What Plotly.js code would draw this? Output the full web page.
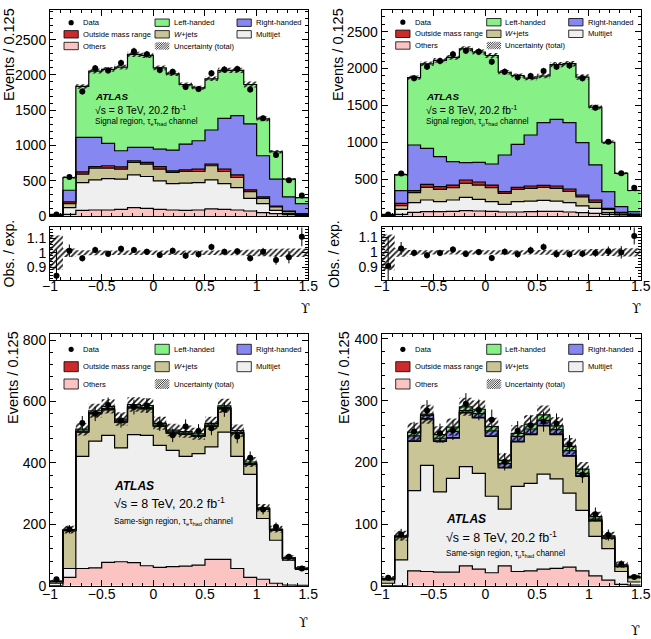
<!DOCTYPE html>
<html><head><meta charset="utf-8">
<script src="https://cdn.plot.ly/plotly-3.0.1.min.js"></script>
<style>html,body{margin:0;padding:0;background:#fff}#plot{width:651px;height:639px}</style>
</head><body><div id="plot"></div>
<script>
// ---------- data ----------
const edges = [-1,-0.875,-0.75,-0.625,-0.5,-0.375,-0.25,-0.125,0,0.125,0.25,0.375,0.5,0.625,0.75,0.875,1,1.125,1.25,1.375,1.5];
const xTickVals = [-1,-0.5,0,0.5,1,1.5];
const xTickText = ['\u22121','\u22120.5','0','0.5','1','1.5'];

// top-left: signal region, tau_e tau_had
const p1_others   = [3,24,81,85,85,95,119,109,95,85,81,85,100,95,85,71,47,33,19,9];
const p1_multijet = [8,95,393,427,446,427,464,451,403,375,384,389,412,365,318,180,128,48,14,5];
const p1_wjets    = [3,56,119,166,147,142,176,175,166,157,166,157,200,171,143,95,76,47,29,10];
const p1_outside  = [1,25,33,24,34,33,24,24,36,23,24,33,23,33,37,24,19,14,9,9];
const p1_right    = [5,165,489,413,317,228,189,213,247,294,365,403,484,721,840,935,584,380,199,142];
const p1_left     = [5,181,721,939,1049,1186,1319,1305,1153,1082,844,750,726,679,641,559,522,389,252,86];
const p1_data     = [21,554,1766,2095,2063,2170,2337,2293,2068,2044,1827,1799,2023,2078,2085,1793,1386,865,506,290];
const p1_unc      = [0.12,0.03,0.018,0.017,0.016,0.016,0.016,0.016,0.016,0.016,0.016,0.016,0.016,0.018,0.018,0.022,0.025,0.028,0.03,0.03];

// top-right: signal region, tau_mu tau_had
const p2_others   = [3,23,50,59,59,63,72,68,63,54,54,59,63,63,54,45,36,23,14,9];
const p2_multijet = [4,67,131,158,135,154,181,158,131,104,140,144,149,140,127,91,68,22,9,5];
const p2_wjets    = [3,50,135,172,168,167,190,194,190,149,168,172,177,172,153,122,81,45,18,9];
const p2_outside  = [1,32,28,40,36,36,45,41,36,23,27,32,27,32,32,27,32,14,9,4];
const p2_right    = [4,172,619,489,407,317,235,267,285,497,583,691,850,904,900,709,475,226,77,32];
const p2_left     = [7,216,913,1146,1305,1414,1544,1496,1471,1122,933,772,632,741,800,890,783,670,452,287];
const p2_data     = [20,575,1869,2025,2102,2192,2242,2228,2093,1957,1880,1898,1966,2025,2039,1867,1469,1008,579,384];
const p2_unc      = [0.12,0.03,0.016,0.015,0.015,0.015,0.015,0.015,0.015,0.015,0.015,0.015,0.016,0.017,0.018,0.02,0.022,0.025,0.028,0.028];

// bottom-left: same-sign region, tau_e tau_had
const p3_others   = [0,27,56,58,76,78,75,65,60,62,64,67,86,86,56,27,21,8,2,1];
const p3_multijet = [8,29,365,413,414,371,417,425,397,379,357,363,366,414,365,336,198,140,81,52];
const p3_wjets    = [5,123,79,89,83,84,87,86,62,56,72,56,67,76,74,31,30,33,6,3];
const p3_outside  = [0,0.5,1,1,1,1,1,1,1,1,1,1,1,1,1,1,0.5,0.5,0,0];
const p3_right    = [1,1,3,3,3,3,3,3,3,3,3,3,3,3,3,3,1,1,0.5,0.5];
const p3_left     = [1,2,6,6,7,6,7,7,6,6,5,5,6,6,6,5,3,2,1,0.5];
const p3_data     = [21,184,530,560,589,538,582,587,527,490,519,504,513,574,486,417,248,192,94,56];
const p3_unc      = [0.3,0.07,0.04,0.04,0.04,0.04,0.04,0.04,0.04,0.04,0.04,0.04,0.04,0.04,0.04,0.04,0.05,0.06,0.1,0.12];

// bottom-right: same-sign region, tau_mu tau_had
const p4_others   = [0,0,24,23,22,22,32,27,21,32,23,24,27,28,30,24,16,9,2,1];
const p4_multijet = [4,42,130,172,130,152,161,155,124,92,138,142,154,145,120,98,64,51,21,5];
const p4_wjets    = [6,37,80,75,82,65,87,90,97,67,72,79,78,72,60,55,25,17,8,7];
const p4_outside  = [0,0.3,1,1,1,1,1,1,1,1,1,1,1,1,1,1,0.5,0.3,0.2,0];
const p4_right    = [0.5,0.7,8,5,4,10,3,6,8,6,8,8,8,7,8,4,2.5,1.7,0.8,1];
const p4_left     = [1.5,1,6,2,6,7,6,7,7,5,5,8,9,6,7,7,4,2,2,1];
const p4_data     = [13,83,250,284,247,252,295,285,269,201,251,260,266,263,229,180,116,82,35,14];
const p4_unc      = [0.3,0.1,0.06,0.055,0.055,0.055,0.05,0.05,0.055,0.055,0.055,0.055,0.055,0.055,0.06,0.06,0.07,0.08,0.15,0.2];

const legendLabels = {data:'Data', left:'Left-handed', right:'Right-handed', outside:'Outside mass range', wjets:'<i>W</i>+jets', multijet:'Multijet', others:'Others', unc:'Uncertainty (total)'};

// ---------- styling ----------
const W = 651, H = 639;
const fx = p => p / W, fy = p => 1 - p / H;
const FONT = 'Liberation Sans, Arial, Helvetica, sans-serif';
const colors = {others:'#fcc3c3', multijet:'#efefef', wjets:'#c9c597', outside:'#cc2b2b', right:'#8787f2', left:'#87f087'};
const order = ['others','multijet','wjets','outside','right','left'];
const centers = edges.slice(0,-1).map((e,i)=>(e+edges[i+1])/2);
const HATCH = {shape:'/', fgcolor:'#111', bgcolor:'rgba(0,0,0,0)', size:4, solidity:0.4};

const panels = [
  {xa:'x', ya:'y', rxa:'x2', rya:'y2', L:50, R:308.3, T:10, B:216, rT:227, rB:280, ymax:2920, dt:500, mdt:100, rr:[0.81,1.18],
   comp:{others:p1_others,multijet:p1_multijet,wjets:p1_wjets,outside:p1_outside,right:p1_right,left:p1_left}, data:p1_data, unc:p1_unc,
   region:'Signal region, \u03c4<sub>e</sub>\u03c4<sub>had</sub> channel', small:true,
   atlas:{x:92.7, y:[96.7,109,122.3]}, ytitle:{x:8.5, y:54.5}, rtitle:{x:8.5, y:254}, ups:{x:305, y:308}},
  {xa:'x3', ya:'y3', rxa:'x4', rya:'y4', L:381.7, R:640.7, T:9.5, B:216, rT:227, rB:280, ymax:2800, dt:500, mdt:100, rr:[0.815,1.17],
   comp:{others:p2_others,multijet:p2_multijet,wjets:p2_wjets,outside:p2_outside,right:p2_right,left:p2_left}, data:p2_data, unc:p2_unc,
   region:'Signal region, \u03c4<sub>\u03bc</sub>\u03c4<sub>had</sub> channel', small:true,
   atlas:{x:424.3, y:[96.7,109,122.3]}, ytitle:{x:337.5, y:54.5}, rtitle:{x:334, y:254}, ups:{x:636, y:308}},
  {xa:'x5', ya:'y5', L:50, R:308.3, T:334, B:585.7, ymax:820, dt:200, mdt:40,
   comp:{others:p3_others,multijet:p3_multijet,wjets:p3_wjets,outside:p3_outside,right:p3_right,left:p3_left}, data:p3_data, unc:p3_unc,
   region:'Same-sign region, \u03c4<sub>e</sub>\u03c4<sub>had</sub> channel', small:false,
   atlas:{x:111.7, y:[485.7,502.7,521.7]}, ytitle:{x:13, y:378}, ups:{x:303, y:622}},
  {xa:'x6', ya:'y6', L:381.7, R:640.7, T:334, B:585.7, ymax:408, dt:100, mdt:20,
   comp:{others:p4_others,multijet:p4_multijet,wjets:p4_wjets,outside:p4_outside,right:p4_right,left:p4_left}, data:p4_data, unc:p4_unc,
   region:'Same-sign region, \u03c4<sub>\u03bc</sub>\u03c4<sub>had</sub> channel', small:false,
   atlas:{x:444.3, y:[519,536.7,554.3]}, ytitle:{x:344, y:378}, ups:{x:635, y:630}}
];

const traces = [], shapes = [], annotations = [];
const layout = {
  width:W, height:H, margin:{l:0,r:0,t:0,b:0}, autosize:false, showlegend:false,
  paper_bgcolor:'#fff', plot_bgcolor:'#fff', font:{family:FONT, size:14, color:'#000'},
  shapes, annotations
};

function axisCommon(){
  return {ticks:'inside', ticklen:6, tickwidth:1, tickcolor:'#000', mirror:'allticks', showline:true,
    linecolor:'#000', linewidth:1, showgrid:false, zeroline:false, fixedrange:true, tickfont:{size:14, family:FONT}};
}
function xAxis(P, anchor, labels, standoff){
  return Object.assign(axisCommon(), {domain:[fx(P.L), fx(P.R)], anchor, range:[-1,1.5], tickmode:'array',
    tickvals:xTickVals, ticktext:xTickText, showticklabels:labels, ticklabelstandoff:standoff,
    minor:{tickmode:'linear', tick0:-1, dtick:0.1, ticks:'inside', ticklen:3, tickcolor:'#000', showgrid:false}});
}
function yAxis(P, anchor, top, bottom, range, dt, mdt, tick0){
  return Object.assign(axisCommon(), {domain:[fy(bottom), fy(top)], anchor, range, tick0, dtick:dt, tickmode:'linear',
    exponentformat:'none', separatethousands:false,
    minor:{tickmode:'linear', tick0, dtick:mdt, ticks:'inside', ticklen:3, tickcolor:'#000', showgrid:false}});
}
const axKey = a => a.replace(/^x/,'xaxis').replace(/^y/,'yaxis');

function step(arr){ return arr.concat([arr[arr.length-1]]); }

panels.forEach(P=>{
  // axes
  layout[axKey(P.xa)] = xAxis(P, P.ya, !P.rxa, -5);
  layout[axKey(P.ya)] = yAxis(P, P.xa, P.T, P.B, [0,P.ymax], P.dt, P.mdt, 0);
  if (P.rxa){
    layout[axKey(P.rxa)] = xAxis(P, P.rya, true, -7);
    layout[axKey(P.rya)] = yAxis(P, P.rxa, P.rT, P.rB, P.rr, 0.1, 0.02, 0);
  }
  // stack
  let cum = new Array(20).fill(0);
  order.forEach((k,idx)=>{
    const v = P.comp[k];
    cum = cum.map((c,i)=>c+v[i]);
    traces.push({type:'scatter', mode:'lines', x:edges, y:step(cum), xaxis:P.xa, yaxis:P.ya,
      line:{shape:'hv', color:'#000', width:1.2}, fill: idx===0?'tozeroy':'tonexty', fillcolor:colors[k],
      hoverinfo:'skip', showlegend:false});
  });
  const total = cum.slice();
  // uncertainty band
  const lo = total.map((t,i)=>t*(1-P.unc[i])), hi = total.map((t,i)=>t*(1+P.unc[i]));
  traces.push({type:'scatter', mode:'lines', x:edges, y:step(lo), xaxis:P.xa, yaxis:P.ya, line:{shape:'hv', width:0}, hoverinfo:'skip', showlegend:false});
  traces.push({type:'scatter', mode:'lines', x:edges, y:step(hi), xaxis:P.xa, yaxis:P.ya, line:{shape:'hv', width:0}, fill:'tonexty',
    fillcolor:'rgba(0,0,0,0)', fillpattern:HATCH, hoverinfo:'skip', showlegend:false});
  // data
  traces.push({type:'scatter', mode:'markers', x:centers, y:P.data, xaxis:P.xa, yaxis:P.ya,
    marker:{color:'#000', size:6}, error_y:{type:'data', array:P.data.map(Math.sqrt), color:'#000', thickness:1, width:0},
    showlegend:false, hoverinfo:'skip'});
  // ratio
  if (P.rxa){
    const rlo = P.unc.map(u=>1-u), rhi = P.unc.map(u=>1+u);
    traces.push({type:'scatter', mode:'lines', x:edges, y:step(rlo), xaxis:P.rxa, yaxis:P.rya, line:{shape:'hv', width:0}, hoverinfo:'skip', showlegend:false});
    traces.push({type:'scatter', mode:'lines', x:edges, y:step(rhi), xaxis:P.rxa, yaxis:P.rya, line:{shape:'hv', width:0}, fill:'tonexty',
      fillcolor:'rgba(0,0,0,0)', fillpattern:HATCH, hoverinfo:'skip', showlegend:false});
    traces.push({type:'scatter', mode:'markers', x:centers, y:P.data.map((d,i)=>d/total[i]), xaxis:P.rxa, yaxis:P.rya,
      marker:{color:'#000', size:6}, error_y:{type:'data', array:P.data.map((d,i)=>Math.sqrt(d)/total[i]), color:'#000', thickness:1, width:0},
      showlegend:false, hoverinfo:'skip'});
  }

  // legend (manual)
  const rows = P.small ? [12.7,24.3,36] : [15.3,32.7,50];
  const bh = P.small ? 7.4 : 10;
  const boxOff = [14,105,187], textOff = [31,121.7,204], bw = 14.3;
  const grid = [['data','left','right'],['outside','wjets','multijet'],['others','unc']];
  grid.forEach((row,ri)=>row.forEach((key,ci)=>{
    const cy = P.T + rows[ri];
    const bx0 = P.L + boxOff[ci], bx1 = bx0 + bw, by0 = cy - bh/2, by1 = cy + bh/2;
    if (key==='data'){
      const cx = (bx0+bx1)/2, r = 2.6;
      shapes.push({type:'circle', xref:'paper', yref:'paper', x0:fx(cx-r), x1:fx(cx+r), y0:fy(cy+r), y1:fy(cy-r), fillcolor:'#000', line:{width:0}});
    } else if (key==='unc'){
      const h = by1 - by0, s = 2.2;
      for (let c = bx0 - h; c <= bx1; c += s){
        const t0 = Math.max(0, bx0 - c), t1 = Math.min(h, bx1 - c);
        if (t1 > t0) shapes.push({type:'line', xref:'paper', yref:'paper', x0:fx(c+t0), y0:fy(by1-t0), x1:fx(c+t1), y1:fy(by1-t1), line:{color:'#222', width:0.9}});
      }
    } else {
      shapes.push({type:'rect', xref:'paper', yref:'paper', x0:fx(bx0), x1:fx(bx1), y0:fy(by1), y1:fy(by0), fillcolor:colors[key], line:{color:'#000', width:0.8}});
    }
    annotations.push({text:legendLabels[key], xref:'paper', yref:'paper', x:fx(P.L+textOff[ci]), y:fy(cy), xanchor:'left', yanchor:'middle',
      showarrow:false, font:{size:7.6, family:FONT}});
  }));

  // ATLAS label
  const big = !P.small;
  annotations.push({text:'<b><i>ATLAS</i></b>', xref:'paper', yref:'paper', x:fx(P.atlas.x), y:fy(P.atlas.y[0]), xanchor:'left', yanchor:'middle', showarrow:false, font:{size: big?12:9.8, family:FONT}});
  annotations.push({text:'\u221as = 8 TeV, 20.2 fb<sup>-1</sup>', xref:'paper', yref:'paper', x:fx(P.atlas.x), y:fy(P.atlas.y[1]), xanchor:'left', yanchor:'middle', showarrow:false, font:{size: big?12.5:10.3, family:FONT}});
  annotations.push({text:P.region, xref:'paper', yref:'paper', x:fx(P.atlas.x), y:fy(P.atlas.y[2]), xanchor:'left', yanchor:'middle', showarrow:false, font:{size:8.2, family:FONT}});

  // axis titles
  annotations.push({text:'Events / 0.125', xref:'paper', yref:'paper', x:fx(P.ytitle.x), y:fy(P.ytitle.y), xanchor:'center', yanchor:'middle', textangle:-90, showarrow:false, font:{size:14.5, family:FONT}});
  if (P.rtitle) annotations.push({text:'Obs. / exp.', xref:'paper', yref:'paper', x:fx(P.rtitle.x), y:fy(P.rtitle.y), xanchor:'center', yanchor:'middle', textangle:-90, showarrow:false, font:{size:14, family:FONT}});
  annotations.push({text:'\u03d2', xref:'paper', yref:'paper', x:fx(P.ups.x), y:fy(P.ups.y), xanchor:'center', yanchor:'middle', showarrow:false, font:{size:13, family:'DejaVu Serif, serif'}});
});

Plotly.newPlot('plot', traces, layout, {staticPlot:true, displayModeBar:false});
</script>
</body></html>
